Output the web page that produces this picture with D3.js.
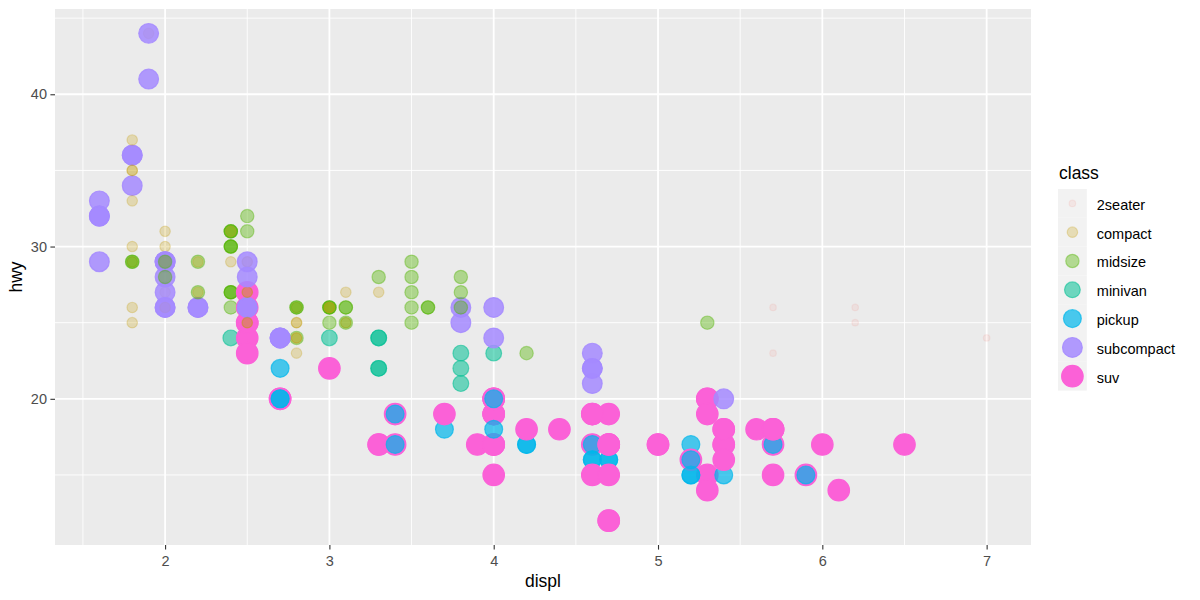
<!DOCTYPE html>
<meta charset="utf-8">
<style>
  body { margin: 0; background: #fff; }
  text { font-family: "Liberation Sans", Arial, sans-serif; }
</style>

<svg width="1200" height="600"></svg>

<script src="https://d3js.org/d3.v7.min.js"></script>
<script>

// legend order + per-class aesthetics (ggplot hue palette, ordinal alpha / size)
var classes    = ["2seater", "compact", "midsize", "minivan", "pickup", "subcompact", "suv"];
var classColor = ["#F8766D", "#C49A00", "#53B400", "#00C094", "#00B6EB", "#A58AFF", "#FB61D7"];
var classAlpha = [0.1, 0.25, 0.4, 0.55, 0.7, 0.85, 1];
var classSize  = [2, 3.055, 3.83, 4.472, 5.033, 5.538, 6];

var xTicks = [2, 3, 4, 5, 6, 7];
var yTicks = [20, 30, 40];

// one entry per car, in data order (later rows are drawn on top)
var displ = [
  1.8,1.8,2.0,2.0,2.8,2.8,3.1, 1.8,1.8,2.0,2.0,2.8,2.8,3.1,3.1, 2.8,3.1,4.2,                  // audi
  5.3,5.3,5.3,5.7,6.0, 5.7,5.7,6.2,6.2,7.0, 5.3,5.3,5.7,6.5, 2.4,2.4,3.1,3.5,3.6,             // chevrolet
  2.4,3.0,3.3,3.3,3.3,3.3,3.3,3.8,3.8,3.8,4.0, 3.7,3.7,3.9,3.9,4.7,4.7,4.7,5.2,5.2,
  3.9,4.7,4.7,4.7,5.2,5.7,5.9, 4.7,4.7,4.7,4.7,4.7,4.7,5.2,5.2,5.7,5.9,                       // dodge
  4.6,5.4,5.4, 4.0,4.0,4.0,4.0,4.6,5.0, 4.2,4.2,4.6,4.6,4.6,5.4,5.4,
  3.8,3.8,4.0,4.0,4.6,4.6,4.6,4.6,5.4,                                                        // ford
  1.6,1.6,1.6,1.6,1.6,1.8,1.8,1.8,2.0,                                                        // honda
  2.4,2.4,2.4,2.4,2.5,2.5,3.3, 2.0,2.0,2.0,2.0,2.7,2.7,2.7,                                   // hyundai
  3.0,3.7,4.0,4.7,4.7,4.7,5.7,6.1,                                                            // jeep
  4.0,4.2,4.4,4.6,                                                                            // land rover
  5.4,5.4,5.4,                                                                                // lincoln
  4.0,4.0,4.6,5.0,                                                                            // mercury
  2.4,2.4,2.5,2.5,3.5,3.5, 3.0,3.0,3.5, 3.3,3.3,4.0,5.6,                                      // nissan
  3.1,3.8,3.8,3.8,5.3,                                                                        // pontiac
  2.5,2.5,2.5,2.5,2.5,2.5, 2.2,2.2,2.5,2.5,2.5,2.5,2.5,2.5,                                   // subaru
  2.7,2.7,3.4,3.4,4.0,4.7, 2.2,2.2,2.4,2.4,3.0,3.0,3.5, 2.2,2.2,2.4,2.4,3.0,3.0,3.3,
  1.8,1.8,1.8,1.8,1.8, 4.7,5.7, 2.7,2.7,2.7,3.4,3.4,4.0,4.0,                                  // toyota
  2.0,2.0,2.0,2.0,2.8, 1.9,2.0,2.0,2.0,2.0,2.5,2.5,2.8,2.8, 1.9,1.9,2.0,2.0,2.5,2.5,
  1.8,1.8,2.0,2.0,2.8,2.8,3.6                                                                 // volkswagen
];

var hwy = [
  29,29,31,30,26,26,27, 26,25,28,27,25,25,25,25, 24,25,23,
  20,15,20,17,17, 26,23,26,25,24, 19,14,15,17, 27,30,26,29,26,
  24,24,22,22,24,24,17,22,21,23,23, 19,18,17,17,19,19,12,17,15,
  17,17,12,17,16,18,15, 16,12,17,17,16,12,15,16,17,15,
  17,17,18, 17,19,17,19,19,17, 17,17,16,16,17,15,17,
  26,25,26,24,21,22,23,22,20,
  33,32,32,29,32,34,36,36,29,
  26,27,30,31,26,26,28, 26,29,28,27,24,24,24,
  22,19,20,17,12,19,18,14,
  15,18,18,15,
  17,16,18,
  17,19,19,17,
  30,27,31,32,27,26, 26,25,25, 17,17,20,18,
  26,26,27,28,25,
  25,24,27,25,26,23, 26,26,26,26,25,27,25,27,
  20,20,19,17,20,17, 29,27,31,31,26,26,28, 29,27,31,29,26,26,27,
  35,30,33,37,35, 15,18, 20,20,22,17,19,18,20,
  29,26,29,29,24, 44,29,26,29,29,29,29,23,24, 44,41,29,26,28,29,
  29,29,28,29,26,26,26
];

var carClass = [
  // audi
  "compact","compact","compact","compact","compact","compact","compact",
  "compact","compact","compact","compact","compact","compact","compact","compact",
  "midsize","midsize","midsize",
  // chevrolet
  "suv","suv","suv","suv","suv",
  "2seater","2seater","2seater","2seater","2seater",
  "suv","suv","suv","suv",
  "midsize","midsize","midsize","midsize","midsize",
  // dodge
  "minivan","minivan","minivan","minivan","minivan","minivan","minivan","minivan","minivan","minivan","minivan",
  "pickup","pickup","pickup","pickup","pickup","pickup","pickup","pickup","pickup",
  "suv","suv","suv","suv","suv","suv","suv",
  "pickup","pickup","pickup","pickup","pickup","pickup","pickup","pickup","pickup","pickup",
  // ford
  "suv","suv","suv",
  "suv","suv","suv","suv","suv","suv",
  "pickup","pickup","pickup","pickup","pickup","pickup","pickup",
  "subcompact","subcompact","subcompact","subcompact","subcompact","subcompact","subcompact","subcompact","subcompact",
  // honda
  "subcompact","subcompact","subcompact","subcompact","subcompact","subcompact","subcompact","subcompact","subcompact",
  // hyundai
  "midsize","midsize","midsize","midsize","midsize","midsize","midsize",
  "subcompact","subcompact","subcompact","subcompact","subcompact","subcompact","subcompact",
  // jeep, land rover, lincoln, mercury
  "suv","suv","suv","suv","suv","suv","suv","suv",
  "suv","suv","suv","suv",
  "suv","suv","suv",
  "suv","suv","suv","suv",
  // nissan
  "midsize","midsize","midsize","midsize","midsize","midsize",
  "midsize","midsize","midsize",
  "suv","suv","suv","suv",
  // pontiac
  "midsize","midsize","midsize","midsize","midsize",
  // subaru
  "suv","suv","suv","suv","suv","suv",
  "subcompact","subcompact","subcompact","subcompact","compact","compact","compact","compact",
  // toyota
  "suv","suv","suv","suv","suv","suv",
  "midsize","midsize","midsize","midsize","midsize","midsize","midsize",
  "compact","compact","compact","compact","compact","compact","compact",
  "compact","compact","compact","compact","compact",
  "suv","suv",
  "pickup","pickup","pickup","pickup","pickup","pickup","pickup",
  // volkswagen
  "compact","compact","compact","compact","compact",
  "compact","compact","compact","compact","compact","compact","compact","compact","compact",
  "subcompact","subcompact","subcompact","subcompact","subcompact","subcompact",
  "midsize","midsize","midsize","midsize","midsize","midsize","midsize"
];

var cars = displ.map(function(d, i) { return {displ: d, hwy: hwy[i], cls: carClass[i]}; });

var svg = d3.select("svg");

var panel = {left: 55, top: 9, right: 1031, bottom: 545};

// ggplot default 5% expansion of the data range
var xExt = d3.extent(displ), yExt = d3.extent(hwy);
var xPad = (xExt[1] - xExt[0]) * 0.05, yPad = (yExt[1] - yExt[0]) * 0.05;

var x = d3.scaleLinear()
    .domain([xExt[0] - xPad, xExt[1] + xPad])
    .range([panel.left, panel.right]);

var y = d3.scaleLinear()
    .domain([yExt[0] - yPad, yExt[1] + yPad])
    .range([panel.bottom, panel.top]);

var color = d3.scaleOrdinal().domain(classes).range(classColor);
var alpha = d3.scaleOrdinal().domain(classes).range(classAlpha);
var radius = d3.scaleOrdinal().domain(classes)
    .range(classSize.map(function(s) { return 1.875 * s - 0.5; }));

// panel background
svg.append("rect")
    .attr("x", panel.left)
    .attr("y", panel.top)
    .attr("width", panel.right - panel.left)
    .attr("height", panel.bottom - panel.top)
    .attr("fill", "#EBEBEB");

// minor grid halfway between breaks
var xMinor = [xTicks[0] - 0.5].concat(xTicks.map(function(t) { return t + 0.5; }))
    .filter(function(v) { return v > x.domain()[0] && v < x.domain()[1]; });
var yMinor = [yTicks[0] - 5].concat(yTicks.map(function(t) { return t + 5; }))
    .filter(function(v) { return v > y.domain()[0] && v < y.domain()[1]; });

var grid = svg.append("g").attr("stroke", "#fff");

grid.selectAll(".xminor").data(xMinor).enter().append("line")
    .attr("x1", x).attr("x2", x)
    .attr("y1", panel.top).attr("y2", panel.bottom)
    .attr("stroke-width", 0.9);
grid.selectAll(".yminor").data(yMinor).enter().append("line")
    .attr("y1", y).attr("y2", y)
    .attr("x1", panel.left).attr("x2", panel.right)
    .attr("stroke-width", 0.9);
grid.selectAll(".xmajor").data(xTicks).enter().append("line")
    .attr("x1", x).attr("x2", x)
    .attr("y1", panel.top).attr("y2", panel.bottom)
    .attr("stroke-width", 1.8);
grid.selectAll(".ymajor").data(yTicks).enter().append("line")
    .attr("y1", y).attr("y2", y)
    .attr("x1", panel.left).attr("x2", panel.right)
    .attr("stroke-width", 1.8);

// points: fill and outline both carry the alpha, like R's pch 19
svg.append("g")
  .selectAll("circle")
  .data(cars)
  .enter().append("circle")
    .attr("cx", function(d) { return x(d.displ); })
    .attr("cy", function(d) { return y(d.hwy); })
    .attr("r", function(d) { return radius(d.cls); })
    .attr("fill", function(d) { return color(d.cls); })
    .attr("fill-opacity", function(d) { return alpha(d.cls); })
    .attr("stroke", function(d) { return color(d.cls); })
    .attr("stroke-opacity", function(d) { return alpha(d.cls); })
    .attr("stroke-width", 1.2);

// axes
var xAxis = svg.append("g")
    .attr("transform", "translate(0," + panel.bottom + ")")
    .call(d3.axisBottom(x).tickValues(xTicks).tickFormat(d3.format("d"))
      .tickSize(4.6).tickSizeOuter(0));
xAxis.select(".domain").remove();
xAxis.selectAll("line").attr("stroke", "#333").attr("stroke-width", 1.1);
xAxis.selectAll("text")
    .attr("y", 21).attr("dy", null)
    .attr("fill", "#4D4D4D")
    .style("font-size", "14.5px");

var yAxis = svg.append("g")
    .attr("transform", "translate(" + panel.left + ",0)")
    .call(d3.axisLeft(y).tickValues(yTicks).tickFormat(d3.format("d"))
      .tickSize(4.6).tickPadding(3.4).tickSizeOuter(0));
yAxis.select(".domain").remove();
yAxis.selectAll("line").attr("stroke", "#333").attr("stroke-width", 1.1);
yAxis.selectAll("text")
    .attr("fill", "#4D4D4D")
    .style("font-size", "14.5px");

svg.selectAll(".tick text").attr("font-family", null);

svg.append("text")
    .attr("x", (panel.left + panel.right) / 2)
    .attr("y", 587)
    .attr("text-anchor", "middle")
    .style("font-size", "17.5px")
    .text("displ");

svg.append("text")
    .attr("transform", "translate(22," + (panel.top + panel.bottom) / 2 + ") rotate(-90)")
    .attr("text-anchor", "middle")
    .style("font-size", "17.5px")
    .text("hwy");

// legend
var key = 28.8;
var legend = svg.append("g").attr("transform", "translate(1058,189)");

legend.append("text")
    .attr("x", 1)
    .attr("y", -10)
    .style("font-size", "17.5px")
    .text("class");

var item = legend.selectAll(".item")
  .data(classes)
  .enter().append("g")
    .attr("transform", function(d, i) { return "translate(0," + i * key + ")"; });

item.append("rect")
    .attr("width", key)
    .attr("height", key)
    .attr("fill", "#F2F2F2");

item.append("circle")
    .attr("cx", key / 2)
    .attr("cy", key / 2)
    .attr("r", radius)
    .attr("fill", color)
    .attr("fill-opacity", alpha)
    .attr("stroke", color)
    .attr("stroke-opacity", alpha)
    .attr("stroke-width", 1.2);

item.append("text")
    .attr("x", key + 10)
    .attr("y", key / 2 + 6.5)
    .style("font-size", "14.5px")
    .text(function(d) { return d; });

</script>
